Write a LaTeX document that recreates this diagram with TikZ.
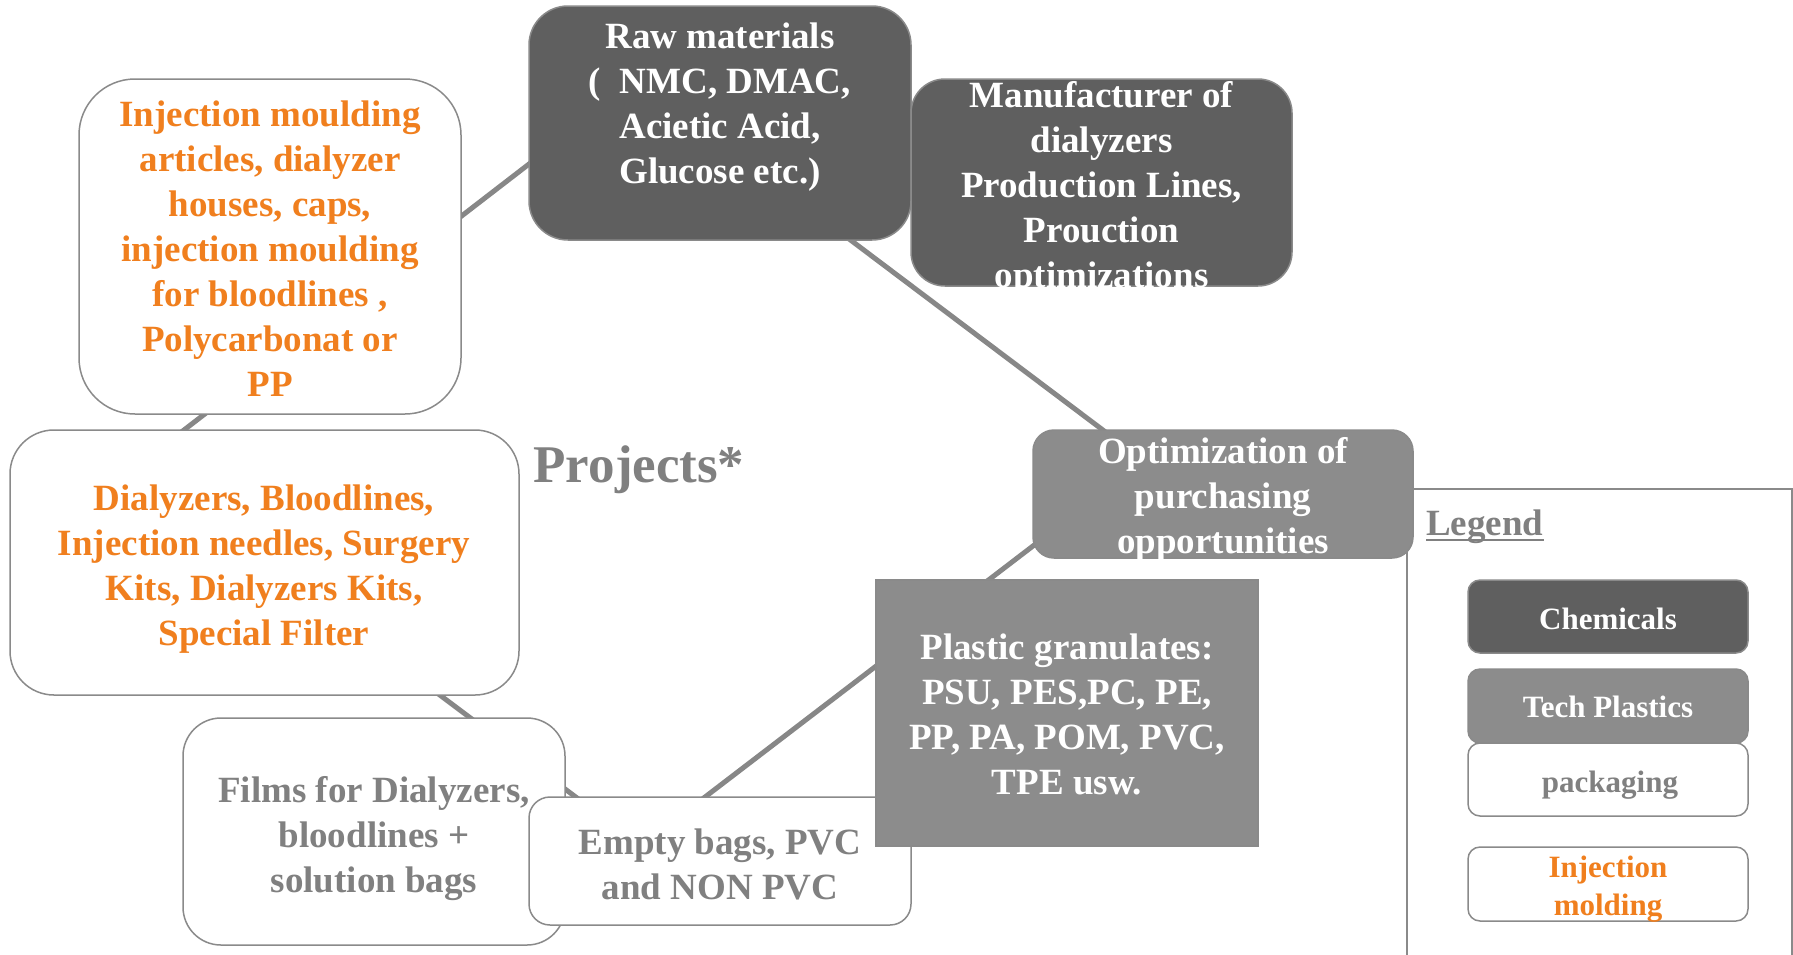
\documentclass[tikz,border=0pt]{standalone}
\usepackage{fontspec}
\setmainfont{Liberation Serif}
\definecolor{darkfill}{HTML}{5F5F5F}
\definecolor{midfill}{HTML}{8C8C8C}
\definecolor{edgegrey}{HTML}{8A8A8A}
\definecolor{linkgrey}{HTML}{878787}
\definecolor{txtgrey}{HTML}{808080}
\definecolor{orangetxt}{HTML}{F07F1E}
\tikzset{
  box/.style={draw=edgegrey, line width=1.5pt, rounded corners=#1, inner sep=0pt, outer sep=0pt},
  darkbox/.style={box=#1, fill=darkfill},
  midbox/.style={box=#1, fill=midfill},
  whitebox/.style={box=#1, fill=white},
  boxtext/.style={align=center, inner sep=0pt, font=\fontsize{37}{45}\selectfont\bfseries},
  legtext/.style={align=center, inner sep=0pt, font=\fontsize{31}{38}\selectfont\bfseries},
  link/.style={draw=linkgrey, line width=5pt},
}
\begin{document}
\begin{tikzpicture}[x=1pt,y=-1pt]
\useasboundingbox (0,0) rectangle (1793,954);
\clip (0,0) rectangle (1793,954);
\fill[white] (0,0) rectangle (1793,954);
% background rhombus
\coordinate (A) at (638,80);
\coordinate (B) at (1144,461);
\coordinate (C) at (641,846);
\coordinate (D) at (136,467);
\draw[link] (A) -- (B) -- (C) -- (D) -- cycle;
% legend frame
\node[draw=edgegrey, line width=2pt, fill=white, minimum width=385pt, minimum height=480pt, anchor=north west, inner sep=0pt] (legbox) at (1406,488) {};
\node[anchor=base west, inner sep=0pt, text=txtgrey, font=\fontsize{37}{45}\selectfont\bfseries] (legT) at (1426,535) {Legend};
\draw[txtgrey, line width=2.5pt] ([yshift=-5pt]legT.base west) -- ([yshift=-5pt]legT.base east);
\node[darkbox=12pt, minimum width=280pt, minimum height=73pt] (lchem) at (1608,616.5) {};
\node[legtext, text=white, anchor=base] (lchemT) at (1608,629) {Chemicals};
\node[midbox=12pt, minimum width=280pt, minimum height=74pt] (ltech) at (1608,706) {};
\node[legtext, text=white, anchor=base] (ltechT) at (1608,717) {Tech Plastics};
\node[whitebox=12pt, minimum width=280pt, minimum height=73pt] (lpack) at (1608,779.5) {};
\node[legtext, text=txtgrey, anchor=base] (lpackT) at (1610,792) {packaging};
\node[whitebox=12pt, minimum width=280pt, minimum height=74pt] (linj) at (1608,884) {};
\node[legtext, text=orangetxt] (linjT) at (1608,889) {Injection\\molding};
% boxes
\node[whitebox=56pt, minimum width=382pt, minimum height=335pt] (inj) at (270,246.5) {};
\node[whitebox=44pt, minimum width=509pt, minimum height=265pt] (dia) at (264.5,562.5) {};
\node[darkbox=39pt, minimum width=382pt, minimum height=234pt] (raw) at (720,123) {};
\node[darkbox=34pt, minimum width=381pt, minimum height=207pt] (man) at (1101.5,182.5) {};
\node[midbox=21pt, minimum width=380pt, minimum height=128pt] (opt) at (1223,494) {};
\node[whitebox=38pt, minimum width=382pt, minimum height=227pt] (fil) at (374,831.5) {};
\node[whitebox=21pt, minimum width=382pt, minimum height=128pt] (emp) at (720,861) {};
\node[midbox=0pt, minimum width=382pt, minimum height=266pt] (pla) at (1067,713) {};
% texts
\node[boxtext, text=orangetxt] (injT) at (270,249) {Injection moulding\\articles, dialyzer\\houses, caps,\\injection moulding\\for bloodlines ,\\Polycarbonat or\\PP};
\node[boxtext, text=orangetxt] (diaT) at (264,569) {Dialyzers, Bloodlines,\\Injection needles, Surgery\\Kits, Dialyzers Kits,\\Special Filter};
\node[boxtext, text=white] (rawT) at (720,107.5) {Raw materials\\(\ \ NMC, DMAC,\\Acietic Acid,\\Glucose etc.)};
\begin{scope}
\clip[rounded corners=34pt] (man.north west) rectangle (man.south east);
\node[boxtext, text=white] (manT) at (1101.5,188.5) {Manufacturer of\\dialyzers\\Production Lines,\\Prouction\\optimizations};
\end{scope}
\node[boxtext, text=white] (optT) at (1223,499.5) {Optimization of\\purchasing\\opportunities};
\node[boxtext, text=txtgrey] (filT) at (374,838.5) {Films for Dialyzers,\\bloodlines +\\solution bags};
\node[boxtext, text=txtgrey] (empT) at (720,864) {Empty bags, PVC\\and NON PVC};
\node[boxtext, text=white] (plaT) at (1067,714.5) {Plastic granulates:\\PSU, PES,PC, PE,\\PP, PA, POM, PVC,\\TPE usw.};
\node[inner sep=0pt, text=txtgrey, font=\fontsize{53}{60}\selectfont\bfseries] (proj) at (639,470) {Projects*};
\end{tikzpicture}
\end{document}
